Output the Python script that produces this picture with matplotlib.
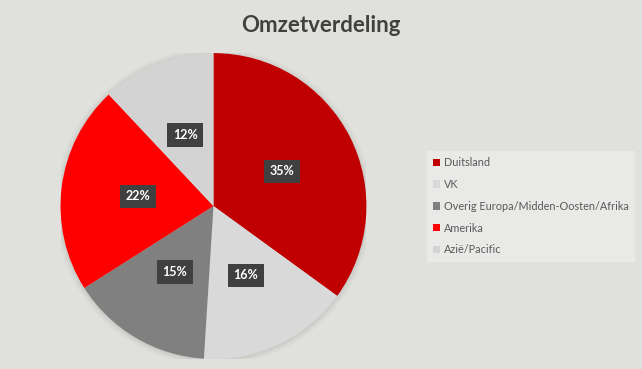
import matplotlib
matplotlib.use("Agg")
import matplotlib.pyplot as plt
from matplotlib.patches import Rectangle, Circle

# omzetverdeling per regio (in procenten)
regios = ["Duitsland", "VK", "Overig Europa/Midden-Oosten/Afrika", "Amerika", "Azië/Pacific"]
aandeel = [35, 16, 15, 22, 12]
kleuren = ["#c00000", "#d9d9d9", "#808080", "#ff0000", "#d3d3d3"]
titel = "Omzetverdeling"

plt.rcParams['font.family'] = ['Lato', 'DejaVu Sans']

fig = plt.figure(figsize=(6.42, 3.69), dpi=100)
fig.patch.set_facecolor("#e0e0dc")

ax = fig.add_axes([0.0942, 0.0271, 0.4766, 0.829])
ax.set_facecolor("none")

# zachte schaduw rond de taart
for r, a in [(1.035, 0.04), (1.02, 0.05), (1.008, 0.06)]:
    ax.add_patch(Circle((0, -0.005), r, facecolor="#606060", edgecolor="none", alpha=a, zorder=0))

wedges, teksten, pct = ax.pie(aandeel, colors=kleuren, startangle=90, counterclock=False,
                              radius=1, autopct="%d%%", pctdistance=0.5,
                              wedgeprops=dict(linewidth=0))
for t in pct:
    t.set_color("white")
    t.set_fontweight("bold")
    t.set_fontsize(9)
    t.set_bbox(dict(boxstyle="square,pad=0.45", facecolor="#404040", edgecolor="none"))

ax.set_xlim(-1, 1)
ax.set_ylim(-1, 1)
ax.set_aspect("equal")

fig.text(0.5, 0.93, titel, ha="center", va="center", fontsize=16, fontweight="bold", color="#404040")

handles = [Rectangle((0, 0), 1, 1, facecolor=k, edgecolor="none") for k in kleuren]
leg = fig.legend(handles, regios, loc="upper left", bbox_to_anchor=(0.665, 0.592),
                 frameon=True, fancybox=False, fontsize=7.8, labelcolor="#595959",
                 handlelength=0.65, handleheight=0.65, handletextpad=0.3,
                 labelspacing=1.0, borderpad=0.6, borderaxespad=0)
leg.get_frame().set_facecolor("#e9e9e7")
leg.get_frame().set_edgecolor("none")
leg.get_frame().set_alpha(1)

plt.savefig("out.png", dpi=100, facecolor=fig.get_facecolor())
